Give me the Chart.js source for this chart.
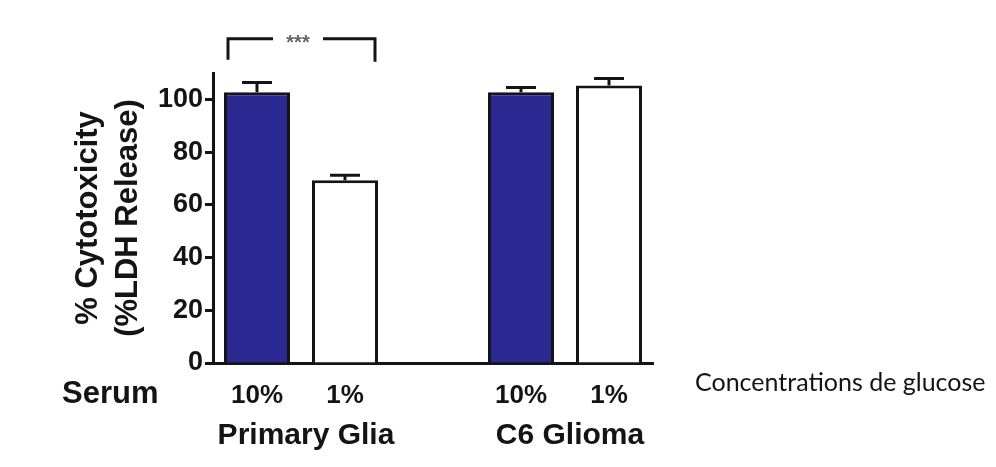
<!DOCTYPE html>
<html>
<head>
<meta charset="utf-8">
<script src="https://cdn.jsdelivr.net/npm/chart.js@4/dist/chart.umd.min.js"></script>
<style>
  html, body { margin: 0; padding: 0; background: #fff; }
  #wrap { width: 996px; height: 467px; position: relative; }
</style>
</head>
<body>
<div id="wrap"><canvas id="c" width="996" height="467"></canvas></div>
<script>
// Serum condition for each bar slot (the empty slot separates the two cell types)
const serumLabels = ['10%', '1%', '', '10%', '1%'];
// Mean % cytotoxicity (LDH release) per bar
const cytotoxicity = [102.7, 69.3, null, 102.7, 105.3];
// Upper error (SEM) per bar
const errorUp = [3.7, 1.9, null, 1.8, 2.6];
// Cell types, each spanning two bar slots
const groupNames = ['Primary Glia', 'C6 Glioma'];
const groupSlots = [[0, 1], [3, 4]];
// Y axis ticks
const yTicks = [0, 20, 40, 60, 80, 100];

const NAVY = '#2a2891';
const INK = '#141414';
const BOLD = "'Liberation Sans', Arial, sans-serif";

const errorBars = {
  id: 'errorBars',
  afterDatasetsDraw(chart) {
    const { ctx } = chart;
    const x = chart.scales.x, y = chart.scales.y;
    ctx.save();
    ctx.strokeStyle = INK;
    ctx.lineWidth = 3;
    cytotoxicity.forEach((v, i) => {
      if (v == null) return;
      const px = x.getPixelForValue(i);
      const y0 = y.getPixelForValue(v);
      const y1 = y.getPixelForValue(v + errorUp[i]);
      ctx.beginPath();
      ctx.moveTo(px, y0);
      ctx.lineTo(px, y1);
      ctx.moveTo(px - 15, y1);
      ctx.lineTo(px + 15, y1);
      ctx.stroke();
    });
    ctx.restore();
  }
};

const annotations = {
  id: 'annotations',
  afterDraw(chart) {
    const { ctx } = chart;
    const x = chart.scales.x, y = chart.scales.y;
    ctx.save();
    ctx.fillStyle = INK;
    ctx.textBaseline = 'middle';

    // group names under the serum labels
    ctx.font = 'bold 30px ' + BOLD;
    ctx.textAlign = 'center';
    groupNames.forEach((name, g) => {
      const [a, b] = groupSlots[g];
      const cx = (x.getPixelForValue(a) + x.getPixelForValue(b)) / 2 + 5;
      ctx.fillText(name, cx, 436);
    });

    // row title for the serum labels
    ctx.font = 'bold 31px ' + BOLD;
    ctx.textAlign = 'left';
    ctx.fillText('Serum', 62, 394);

    // side note
    ctx.font = "25px Lato, 'Open Sans', sans-serif";
    ctx.fillText('Concentrations de glucose', 695, 383);

    // significance bracket between the two primary glia bars
    const meta = chart.getDatasetMeta(0);
    const b0 = meta.data[0], b1 = meta.data[1];
    const xl = b0.x - b0.width / 2 + 4;
    const xr = b1.x + b1.width / 2 - 3;
    const yTop = y.getPixelForValue(123);
    const yEnd = y.getPixelForValue(115);
    ctx.strokeStyle = INK;
    ctx.lineWidth = 3;
    ctx.beginPath();
    ctx.moveTo(xl, yEnd);
    ctx.lineTo(xl, yTop);
    ctx.lineTo(xl + 45, yTop);
    ctx.moveTo(xr - 52, yTop);
    ctx.lineTo(xr, yTop);
    ctx.lineTo(xr, yEnd + 2);
    ctx.stroke();
    ctx.fillStyle = '#666';
    ctx.font = 'bold 20px ' + BOLD;
    ctx.textAlign = 'center';
    ctx.fillText('***', (xl + 45 + xr - 52) / 2, yTop + 5);
    ctx.restore();
  }
};

new Chart(document.getElementById('c'), {
  type: 'bar',
  data: {
    labels: serumLabels,
    datasets: [{
      data: cytotoxicity,
      backgroundColor: [NAVY, '#ffffff', '#ffffff', NAVY, '#ffffff'],
      borderColor: INK,
      borderWidth: 3,
      borderSkipped: 'bottom',
      barPercentage: 0.75,
      categoryPercentage: 1.0
    }]
  },
  options: {
    responsive: false,
    animation: false,
    devicePixelRatio: 1,
    layout: { padding: { top: 73, right: 343, left: 0, bottom: 0 } },
    plugins: { legend: { display: false }, tooltip: { enabled: false } },
    scales: {
      x: {
        grid: { display: false, drawTicks: false },
        border: { color: INK, width: 3 },
        ticks: {
          color: INK,
          padding: 17,
          font: { family: BOLD, size: 26, weight: 'bold' }
        },
        afterFit(s) { s.height = 104; }
      },
      y: {
        min: 0,
        max: 110,
        afterBuildTicks(s) { s.ticks = yTicks.map(v => ({ value: v })); },
        grid: { drawOnChartArea: false, tickLength: 8, color: INK, tickWidth: 3 },
        border: { color: INK, width: 3 },
        ticks: {
          color: INK,
          padding: 2,
          font: { family: BOLD, size: 27, weight: 'bold' }
        },
        title: {
          display: true,
          text: ['% Cytotoxicity', '(%LDH Release)'],
          color: INK,
          padding: { top: 68, bottom: 0 },
          font: { family: BOLD, size: 31, weight: 'bold', lineHeight: 1.29 }
        },
        afterFit(s) { s.width = 213; }
      }
    }
  },
  plugins: [errorBars, annotations]
});
</script>
</body>
</html>
